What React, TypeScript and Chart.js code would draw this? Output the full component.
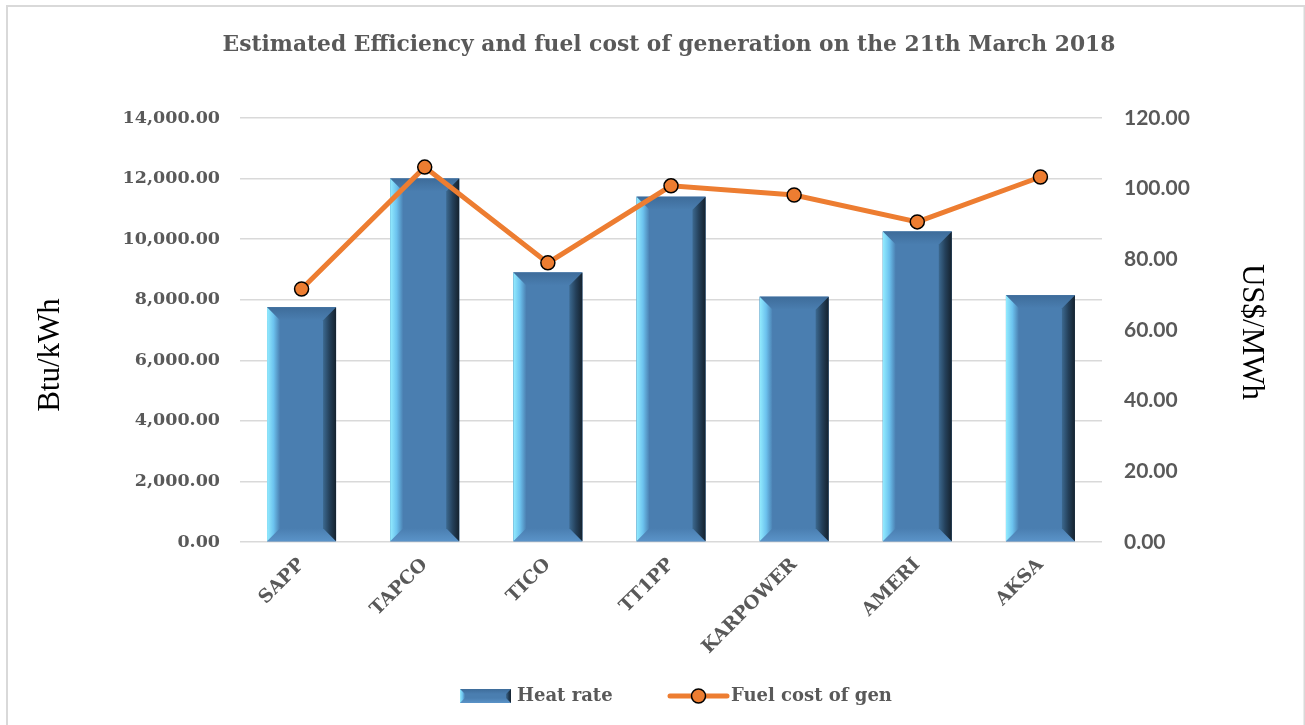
import React, { useEffect, useRef } from "react";
import { Chart, registerables } from "chart.js";

Chart.register(...registerables);

const categories = ["SAPP", "TAPCO", "TICO", "TT1PP", "KARPOWER", "AMERI", "AKSA"];
const heatRate = [7750, 12000, 8900, 11400, 8100, 10250, 8150];
const fuelCost = [71.6, 106.1, 79.0, 100.8, 98.2, 90.6, 103.3];
const leftTicksMax = 14000;
const leftTicksStep = 2000;
const rightTicksMax = 120;
const rightTicksStep = 20;

const TITLE = "Estimated Efficiency and fuel cost of generation on the 21th March 2018";
const LEFT_TITLE = "Btu/kWh";
const RIGHT_TITLE = "US$/MWh";
const LEGEND_BAR = "Heat rate";
const LEGEND_LINE = "Fuel cost of gen";

const GRAY = "#595959";
const ORANGE = "#ED7D31";
const BAR = "#4A7EB0";
const SERIF = "'DejaVu Serif', serif";

function drawBevel(ctx: CanvasRenderingContext2D, L: number, T: number, R: number, B: number, b: number) {
  ctx.save();
  ctx.fillStyle = BAR;
  ctx.fillRect(L, T, R - L, B - T);
  // top bevel
  let g = ctx.createLinearGradient(0, T, 0, T + b);
  g.addColorStop(0, "#3E6C9A");
  g.addColorStop(1, "#4A7EB0");
  ctx.fillStyle = g;
  ctx.beginPath();
  ctx.moveTo(L, T); ctx.lineTo(R, T); ctx.lineTo(R - b, T + b); ctx.lineTo(L + b, T + b); ctx.closePath();
  ctx.fill();
  // bottom bevel
  g = ctx.createLinearGradient(0, B - b, 0, B);
  g.addColorStop(0, "#4A7EB0");
  g.addColorStop(1, "#5A93C8");
  ctx.fillStyle = g;
  ctx.beginPath();
  ctx.moveTo(L, B); ctx.lineTo(R, B); ctx.lineTo(R - b, B - b); ctx.lineTo(L + b, B - b); ctx.closePath();
  ctx.fill();
  // left bevel
  g = ctx.createLinearGradient(L, 0, L + b, 0);
  g.addColorStop(0, "#93ECFF");
  g.addColorStop(0.5, "#6CC2EE");
  g.addColorStop(1, "#4A7EB0");
  ctx.fillStyle = g;
  ctx.beginPath();
  ctx.moveTo(L, T); ctx.lineTo(L + b, T + b); ctx.lineTo(L + b, B - b); ctx.lineTo(L, B); ctx.closePath();
  ctx.fill();
  // right bevel
  g = ctx.createLinearGradient(R - b, 0, R, 0);
  g.addColorStop(0, "#3C6990");
  g.addColorStop(0.5, "#24405A");
  g.addColorStop(1, "#15222E");
  ctx.fillStyle = g;
  ctx.beginPath();
  ctx.moveTo(R, T); ctx.lineTo(R - b, T + b); ctx.lineTo(R - b, B - b); ctx.lineTo(R, B); ctx.closePath();
  ctx.fill();
  ctx.restore();
}

const bevelPlugin = {
  id: "bevelBars",
  afterDatasetDraw(chart: any, args: any) {
    if (args.index !== 0) return;
    const ctx = chart.ctx;
    const meta = chart.getDatasetMeta(0);
    ctx.save();
    const ca = chart.chartArea;
    ctx.beginPath();
    ctx.rect(ca.left, ca.top, ca.right - ca.left, ca.bottom - ca.top);
    ctx.clip();
    meta.data.forEach((bar: any) => {
      const p = bar.getProps(["x", "y", "base", "width"], true);
      const L = p.x - p.width / 2;
      const R = p.x + p.width / 2;
      const T = Math.min(p.y, p.base);
      const B = Math.max(p.y, p.base);
      drawBevel(ctx, L, T, R, B, 13);
    });
    ctx.restore();
  },
};

const decorPlugin = {
  id: "decor",
  beforeDraw(chart: any) {
    const ctx = chart.ctx;
    ctx.save();
    ctx.fillStyle = "#ffffff";
    ctx.fillRect(0, 0, chart.width, chart.height);
    ctx.strokeStyle = "#D9D9D9";
    ctx.lineWidth = 2;
    ctx.strokeRect(7, 6, 1297.5, 800);
    ctx.restore();
  },
  afterDraw(chart: any) {
    const ctx = chart.ctx;
    const ca = chart.chartArea;
    const cx = (ca.left + ca.right) / 2;
    ctx.save();
    // title
    ctx.fillStyle = GRAY;
    ctx.font = `bold 21.8px ${SERIF}`;
    ctx.textAlign = "center";
    ctx.textBaseline = "middle";
    ctx.fillText(TITLE, cx - 2, 45);
    // axis titles
    ctx.fillStyle = "#000000";
    ctx.font = "31px 'Liberation Serif', serif";
    ctx.save();
    ctx.translate(ca.left - 189, 355);
    ctx.rotate(-Math.PI / 2);
    ctx.fillText(LEFT_TITLE, 0, 0);
    ctx.restore();
    ctx.save();
    ctx.translate(ca.right + 149, 332);
    ctx.rotate(Math.PI / 2);
    ctx.fillText(RIGHT_TITLE, 0, 0);
    ctx.restore();
    // legend
    const ly = 696;
    drawBevel(ctx, cx - 211, ly - 7, cx - 160, ly + 7, 5);
    ctx.fillStyle = GRAY;
    ctx.font = `bold 18px ${SERIF}`;
    ctx.textAlign = "left";
    ctx.textBaseline = "middle";
    ctx.fillText(LEGEND_BAR, cx - 154, ly);
    ctx.strokeStyle = ORANGE;
    ctx.lineWidth = 5;
    ctx.lineCap = "round";
    ctx.beginPath();
    ctx.moveTo(cx - 1, ly);
    ctx.lineTo(cx + 56, ly);
    ctx.stroke();
    ctx.beginPath();
    ctx.arc(cx + 27.5, ly, 7, 0, Math.PI * 2);
    ctx.fillStyle = ORANGE;
    ctx.fill();
    ctx.lineWidth = 1.5;
    ctx.strokeStyle = "#000000";
    ctx.stroke();
    ctx.fillStyle = GRAY;
    ctx.fillText(LEGEND_LINE, cx + 60, ly);
    ctx.restore();
  },
};

export default function App() {
  const ref = useRef<HTMLCanvasElement>(null);
  useEffect(() => {
    document.body.style.margin = "0";
    const canvas = ref.current!;
    const chart = new Chart(canvas, {
      type: "bar",
      data: {
        labels: categories,
        datasets: [
          {
            type: "bar",
            label: LEGEND_BAR,
            data: heatRate,
            backgroundColor: BAR,
            yAxisID: "y",
            order: 1,
            categoryPercentage: 1,
            barPercentage: 0.56,
          },
          {
            type: "line",
            label: LEGEND_LINE,
            data: fuelCost,
            borderColor: ORANGE,
            borderWidth: 5,
            pointRadius: 7,
            pointBackgroundColor: ORANGE,
            pointBorderColor: "#000000",
            pointBorderWidth: 1.5,
            yAxisID: "y1",
            order: 0,
            tension: 0,
          },
        ],
      } as any,
      options: {
        responsive: false,
        animation: false,
        devicePixelRatio: 1,
        layout: { padding: { top: 118, bottom: 53, left: 0, right: 0 } },
        plugins: {
          legend: { display: false },
          title: { display: false },
          tooltip: { enabled: false },
        },
        scales: {
          x: {
            grid: { display: false },
            border: { display: false },
            ticks: {
              minRotation: 45,
              maxRotation: 45,
              color: GRAY,
              font: { family: SERIF, size: 18.5, weight: "bold" },
              padding: 4,
            },
            afterFit(s: any) { s.height = 130; },
          },
          y: {
            position: "left",
            min: 0,
            max: leftTicksMax,
            grid: { color: "#D9D9D9", lineWidth: 1.5, drawTicks: false },
            border: { display: false },
            ticks: {
              stepSize: leftTicksStep,
              padding: 20,
              color: GRAY,
              font: { family: SERIF, size: 17.5, weight: "bold" },
              callback: (v: any) => Number(v).toLocaleString("en-US", { minimumFractionDigits: 2, maximumFractionDigits: 2 }),
            },
            afterFit(s: any) { s.width = 240; },
          },
          y1: {
            position: "right",
            min: 0,
            max: rightTicksMax,
            grid: { display: false, drawTicks: false },
            border: { display: false },
            ticks: {
              stepSize: rightTicksStep,
              padding: 22,
              color: GRAY,
              font: { family: "Lato, sans-serif", size: 21, weight: "bold" },
              callback: (v: any) => Number(v).toFixed(2),
            },
            afterFit(s: any) { s.width = 203; },
          },
        },
      } as any,
      plugins: [decorPlugin, bevelPlugin],
    });
    return () => chart.destroy();
  }, []);
  return (
    <div style={{ width: 1305, height: 725, position: "relative" }}>
      <canvas ref={ref} width={1305} height={725} style={{ display: "block" }} />
    </div>
  );
}
